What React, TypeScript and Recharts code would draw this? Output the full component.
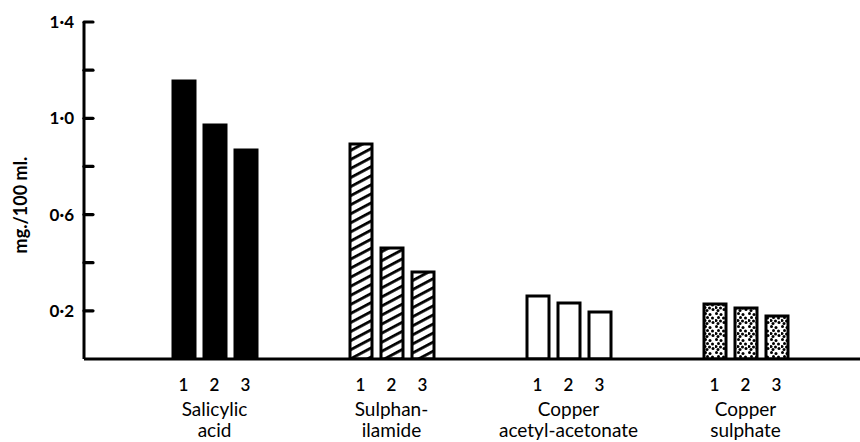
import { BarChart, Bar, XAxis, YAxis, Cell } from 'recharts'

// mg./100 ml. for the three samples of each compound
const groups = ['Salicylic acid', 'Sulphanilamide', 'Copper acetyl-acetonate', 'Copper sulphate']
const groupLines = [['Salicylic', 'acid'], ['Sulphan-', 'ilamide'], ['Copper', 'acetyl-acetonate'], ['Copper', 'sulphate']]
const sample1 = [1.155, 0.893, 0.262, 0.228]
const sample2 = [0.972, 0.461, 0.233, 0.212]
const sample3 = [0.868, 0.361, 0.195, 0.179]
const sampleLabels = ['1', '2', '3']
const yTicks = [0.2, 0.4, 0.6, 0.8, 1.0, 1.2, 1.4]
const yTickLabels: Record<string, string> = { '0.2': '0·2', '0.6': '0·6', '1': '1·0', '1.4': '1·4' }
const groupFills = ['#000', 'url(#hatch)', '#fff', 'url(#dots)']

const data = groups.map((g, i) => ({ name: g, s1: sample1[i], s2: sample2[i], s3: sample3[i] }))

const FONT = 'Lato, "Open Sans", sans-serif'
const BAR = 22
const GAP = 9

function XTick({ x, y, index }: any) {
  const lines = groupLines[index] ?? []
  return (
    <g fontFamily={FONT} fill="#000">
      {sampleLabels.map((s, k) => (
        <text key={s} x={x + (k - 1) * (BAR + GAP)} y={y + 32} textAnchor="middle" fontSize={17} fontWeight={600}>{s}</text>
      ))}
      {lines.map((l, k) => (
        <text key={l} x={x} y={y + 57 + k * 21} textAnchor="middle" fontSize={19}>{l}</text>
      ))}
    </g>
  )
}

function YTick({ x, y, payload }: any) {
  const label = yTickLabels[String(payload.value)]
  return (
    <g>
      <line x1={x} x2={x + 9} y1={y} y2={y} stroke="#000" strokeWidth={3.2} strokeLinecap="round" />
      {label && (
        <text x={x - 10} y={y + 6} textAnchor="end" fontFamily={FONT} fontSize={17} fontWeight={700} fill="#000">{label}</text>
      )}
    </g>
  )
}

const dots = [
  [1.5, 1.5], [6, 2.5], [3.5, 5.5], [8.5, 6], [1, 8.5], [5.5, 9], [9, 10.5], [3, 11.5],
]

export default function App() {
  return (
    <div style={{ position: 'absolute', left: 0, top: 0, background: '#fff' }}>
      <svg width={0} height={0} style={{ position: 'absolute' }}>
        <defs>
          <pattern id="hatch" patternUnits="userSpaceOnUse" width={10} height={8} patternTransform="rotate(-28)">
            <rect width={10} height={8} fill="#fff" />
            <rect y={0} width={10} height={2.8} fill="#000" />
          </pattern>
          <pattern id="dots" patternUnits="userSpaceOnUse" width={11} height={13}>
            <rect width={11} height={13} fill="#fff" />
            {dots.map(([cx, cy], i) => <circle key={i} cx={cx} cy={cy} r={1.5} fill="#000" />)}
          </pattern>
        </defs>
      </svg>
      <BarChart width={860} height={442} data={data} margin={{ top: 22, right: 0, bottom: 0, left: 0 }} barSize={BAR} barGap={GAP}>
        <XAxis
          dataKey="name"
          height={83}
          padding={{ left: 42, right: 26 }}
          axisLine={{ stroke: '#000', strokeWidth: 3 }}
          tickLine={false}
          tickSize={0}
          tickMargin={0}
          interval={0}
          tick={<XTick />}
        />
        <YAxis
          width={84}
          domain={[0, 1.4]}
          ticks={yTicks}
          allowDataOverflow
          axisLine={{ stroke: '#000', strokeWidth: 3 }}
          tickLine={false}
          tickSize={0}
          tickMargin={0}
          interval={0}
          tick={<YTick />}
          label={() => (
            <text
              x={27}
              y={205}
              transform="rotate(-90 27 205)"
              textAnchor="middle"
              fontFamily={FONT}
              fontSize={18}
              fontWeight={700}
              fill="#000"
            >mg./100 ml.</text>
          )}
        />
        {(['s1', 's2', 's3'] as const).map(k => (
          <Bar key={k} dataKey={k} stroke="#000" strokeWidth={3} isAnimationActive={false}>
            {data.map((_, i) => <Cell key={i} fill={groupFills[i]} />)}
          </Bar>
        ))}
      </BarChart>
    </div>
  )
}
